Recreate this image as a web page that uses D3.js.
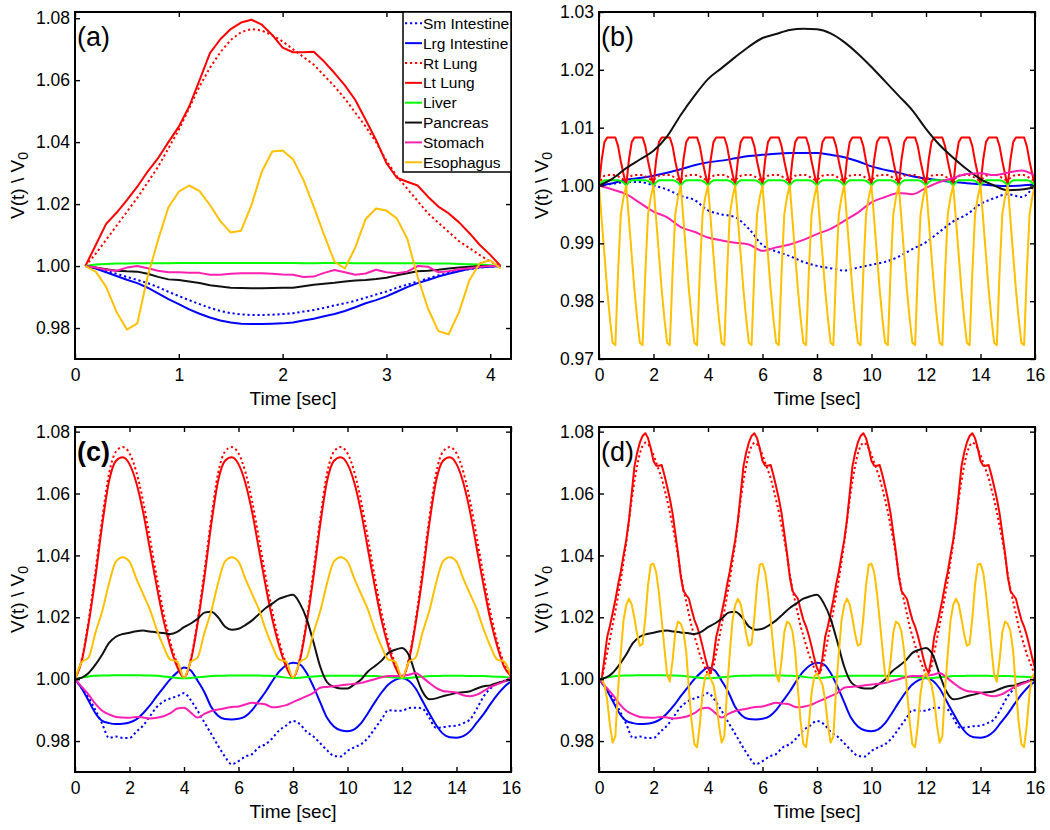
<!DOCTYPE html>
<html>
<head>
<meta charset="utf-8">
<script src="https://cdn.jsdelivr.net/npm/d3@7"></script>
<style>
  body { margin: 0; background: #fff; }
  svg { font-family: "Liberation Sans", Arial, sans-serif; }
</style>
</head>
<body>
<svg id="fig" width="1050" height="830"></svg>
<script>
// legend order = plot order
var organs = ["Sm Intestine", "Lrg Intestine", "Rt Lung", "Lt Lung", "Liver", "Pancreas", "Stomach", "Esophagus"];
var organColors = ["#0000ff", "#0000ff", "#ff0000", "#ff0000", "#00ff00", "#111111", "#ff1fb0", "#ffc000"];
var organDotted = [true, false, true, false, false, false, false, false];

// ---------- panel (a): one cycle, 0.1 .. 4.1 s ----------
var tA = d3.range(41).map(i => 0.1 + i * 0.1);
var smA = [1.000, 0.9995, 0.9985, 0.9975, 0.9965, 0.9955, 0.9945, 0.9932, 0.9917, 0.9903,
  0.989, 0.9877, 0.9865, 0.9855, 0.9848, 0.9844, 0.9842, 0.9842, 0.9843, 0.9845,
  0.9848, 0.9853, 0.9858, 0.9865, 0.9873, 0.988, 0.9888, 0.9898, 0.9908, 0.9918,
  0.993, 0.994, 0.995, 0.996, 0.997, 0.9978, 0.9985, 0.999, 0.9995, 0.9998, 1.000];
var lrgA = [1.000, 0.9992, 0.998, 0.9968, 0.9956, 0.9945, 0.993, 0.9912, 0.9893, 0.9877,
  0.986, 0.9846, 0.9834, 0.9824, 0.9818, 0.9814, 0.9813, 0.9813, 0.9814, 0.9815,
  0.9818, 0.9824, 0.983, 0.9838, 0.9845, 0.9855, 0.9867, 0.988, 0.989, 0.9902,
  0.9917, 0.9932, 0.9945, 0.9955, 0.9966, 0.9975, 0.9983, 0.9991, 0.9996, 0.9998, 1.000];
var rtLungA = [1.000, 1.004, 1.0085, 1.013, 1.0175, 1.022, 1.027, 1.032, 1.038, 1.044,
  1.051, 1.058, 1.064, 1.069, 1.073, 1.0755, 1.0765, 1.076, 1.0745, 1.0725,
  1.070, 1.0675, 1.065, 1.0615, 1.058, 1.054, 1.0495, 1.045, 1.040, 1.034,
  1.029, 1.025, 1.021, 1.017, 1.014, 1.011, 1.008, 1.0058, 1.0035, 1.0015, 1.000];
var ltLungA = [1.000, 1.0068, 1.0136, 1.0172, 1.0213, 1.0256, 1.0305, 1.0348, 1.040, 1.045,
  1.0515, 1.060, 1.0687, 1.0732, 1.0765, 1.0786, 1.0795, 1.0779, 1.0746, 1.0705,
  1.069, 1.069, 1.0692, 1.066, 1.0623, 1.0583, 1.0536, 1.0472, 1.0407, 1.0332,
  1.0285, 1.0272, 1.026, 1.0224, 1.0192, 1.017, 1.0141, 1.0106, 1.0068, 1.0036, 1.000];
var liverA = [1.000, 1.0005, 1.0007, 1.0008, 1.0008, 1.0009, 1.0009, 1.0009, 1.0009, 1.001,
  1.001, 1.001, 1.001, 1.001, 1.001, 1.001, 1.001, 1.001, 1.001, 1.001,
  1.001, 1.0009, 1.0009, 1.001, 1.001, 1.001, 1.0009, 1.0009, 1.0009, 1.0009,
  1.0009, 1.0009, 1.0009, 1.0008, 1.0008, 1.0008, 1.0007, 1.0006, 1.0005, 1.0003, 1.000];
var pancreasA = [1.000, 0.9995, 0.999, 0.9985, 0.9983, 0.9982, 0.9975, 0.9965, 0.9957, 0.9955,
  0.995, 0.9945, 0.9938, 0.9934, 0.993, 0.9929, 0.9928, 0.9928, 0.9929, 0.993,
  0.993, 0.9935, 0.994, 0.9943, 0.9946, 0.995, 0.9953, 0.9955, 0.9958, 0.9962,
  0.997, 0.9977, 0.9983, 0.9985, 0.9988, 0.9992, 0.9995, 0.9998, 1.000, 1.000, 1.000];
var stomachA = [1.000, 0.9995, 0.9988, 0.9985, 0.9995, 1.000, 0.9993, 0.9985, 0.998, 0.998,
  0.9978, 0.9978, 0.9972, 0.9972, 0.9975, 0.9977, 0.9977, 0.9977, 0.9975, 0.9973,
  0.9972, 0.9965, 0.9966, 0.9978, 0.9987, 0.998, 0.9972, 0.9976, 0.9988, 0.998,
  0.9977, 0.9982, 1.000, 0.9998, 0.998, 0.9983, 0.999, 0.9993, 0.9998, 1.000, 1.000];
var esoA = [1.000, 0.9982, 0.9933, 0.9852, 0.9795, 0.9815, 0.9966, 1.0084, 1.019, 1.024,
  1.026, 1.0242, 1.0197, 1.0145, 1.0108, 1.0114, 1.0197, 1.0305, 1.037, 1.0373,
  1.0345, 1.0278, 1.0192, 1.010, 1.0014, 0.9992, 1.006, 1.0152, 1.0186, 1.0179,
  1.0154, 1.0089, 0.9966, 0.9863, 0.979, 0.978, 0.9852, 0.9955, 1.0009, 1.0019, 0.9992];

// ---------- panel (b): 0 .. 16 s ----------
var tB = d3.range(161).map(i => i * 0.1);     // fast signals
var tB2 = d3.range(33).map(i => i * 0.5);     // slow signals
var smB = [1.000, 1.0003, 1.0006, 1.0006, 1.000, 0.9993, 0.9982, 0.9975, 0.9957, 0.995,
  0.9945, 0.9925, 0.9897, 0.9886, 0.9878, 0.9868, 0.9861, 0.9857, 0.9853, 0.9858,
  0.9863, 0.9868, 0.9877, 0.989, 0.9902, 0.992, 0.9938, 0.995, 0.9968, 0.9978,
  0.9985, 0.998, 1.0002];
var lrgB = [1.000, 1.0004, 1.001, 1.0013, 1.0017, 1.0022, 1.0028, 1.0035, 1.004, 1.0043,
  1.0047, 1.0051, 1.0053, 1.0055, 1.0056, 1.0056, 1.0056, 1.0053, 1.0049, 1.0042,
  1.0033, 1.0027, 1.0022, 1.0016, 1.0012, 1.0009, 1.0006, 1.0004, 1.0002, 1.000,
  0.9999, 1.000, 1.0002];
var rtLungB = [
  1.000, 1.0013, 1.0017, 1.0018, 1.0018, 1.0018, 1.0018, 1.0016, 1.0013, 1.001,
  1.001, 1.0013, 1.0017, 1.0018, 1.0018, 1.0018, 1.0018, 1.0016, 1.0013, 1.001,
  1.001, 1.0013, 1.0017, 1.0018, 1.0018, 1.0018, 1.0018, 1.0016, 1.0013, 1.001,
  1.001, 1.0013, 1.0017, 1.0018, 1.0018, 1.0018, 1.0018, 1.0016, 1.0013, 1.001,
  1.001, 1.0013, 1.0017, 1.0018, 1.0018, 1.0018, 1.0018, 1.0016, 1.0013, 1.001,
  1.001, 1.0013, 1.0017, 1.0018, 1.0018, 1.0018, 1.0018, 1.0016, 1.0013, 1.001,
  1.001, 1.0013, 1.0017, 1.0018, 1.0018, 1.0018, 1.0018, 1.0016, 1.0013, 1.001,
  1.001, 1.0013, 1.0017, 1.0018, 1.0018, 1.0018, 1.0018, 1.0016, 1.0013, 1.001,
  1.001, 1.0013, 1.0017, 1.0018, 1.0018, 1.0018, 1.0018, 1.0016, 1.0013, 1.001,
  1.001, 1.0013, 1.0017, 1.0018, 1.0018, 1.0018, 1.0018, 1.0016, 1.0013, 1.001,
  1.001, 1.0013, 1.0017, 1.0018, 1.0018, 1.0018, 1.0018, 1.0016, 1.0013, 1.001,
  1.001, 1.0013, 1.0017, 1.0018, 1.0018, 1.0018, 1.0018, 1.0016, 1.0013, 1.001,
  1.001, 1.0013, 1.0017, 1.0018, 1.0018, 1.0018, 1.0018, 1.0016, 1.0013, 1.001,
  1.001, 1.0013, 1.0017, 1.0018, 1.0018, 1.0018, 1.0018, 1.0016, 1.0013, 1.001,
  1.001, 1.0013, 1.0017, 1.0018, 1.0018, 1.0018, 1.0018, 1.0016, 1.0013, 1.001,
  1.001, 1.0013, 1.0017, 1.0018, 1.0018, 1.0018, 1.0018, 1.0016, 1.0013, 1.001,
  1.001];
var ltLungB = [
  1.000, 1.0045, 1.0075, 1.0083, 1.0083, 1.0083, 1.0083, 1.0068, 1.0042, 1.002,
  1.000, 1.0045, 1.0075, 1.0083, 1.0083, 1.0083, 1.0083, 1.0068, 1.0042, 1.002,
  1.000, 1.0045, 1.0075, 1.0083, 1.0083, 1.0083, 1.0083, 1.0068, 1.0042, 1.002,
  1.000, 1.0045, 1.0075, 1.0083, 1.0083, 1.0083, 1.0083, 1.0068, 1.0042, 1.002,
  1.000, 1.0045, 1.0075, 1.0083, 1.0083, 1.0083, 1.0083, 1.0068, 1.0042, 1.002,
  1.000, 1.0045, 1.0075, 1.0083, 1.0083, 1.0083, 1.0083, 1.0068, 1.0042, 1.002,
  1.000, 1.0045, 1.0075, 1.0083, 1.0083, 1.0083, 1.0083, 1.0068, 1.0042, 1.002,
  1.000, 1.0045, 1.0075, 1.0083, 1.0083, 1.0083, 1.0083, 1.0068, 1.0042, 1.002,
  1.000, 1.0045, 1.0075, 1.0083, 1.0083, 1.0083, 1.0083, 1.0068, 1.0042, 1.002,
  1.000, 1.0045, 1.0075, 1.0083, 1.0083, 1.0083, 1.0083, 1.0068, 1.0042, 1.002,
  1.000, 1.0045, 1.0075, 1.0083, 1.0083, 1.0083, 1.0083, 1.0068, 1.0042, 1.002,
  1.000, 1.0045, 1.0075, 1.0083, 1.0083, 1.0083, 1.0083, 1.0068, 1.0042, 1.002,
  1.000, 1.0045, 1.0075, 1.0083, 1.0083, 1.0083, 1.0083, 1.0068, 1.0042, 1.002,
  1.000, 1.0045, 1.0075, 1.0083, 1.0083, 1.0083, 1.0083, 1.0068, 1.0042, 1.002,
  1.000, 1.0045, 1.0075, 1.0083, 1.0083, 1.0083, 1.0083, 1.0068, 1.0042, 1.002,
  1.000, 1.0045, 1.0075, 1.0083, 1.0083, 1.0083, 1.0083, 1.0068, 1.0042, 1.002,
  1.000];
var liverB = [
  1.000, 1.0006, 1.0009, 1.0009, 1.0009, 1.0009, 1.0009, 1.0009, 1.0008, 1.0005,
  1.000, 1.0006, 1.0009, 1.0009, 1.0009, 1.0009, 1.0009, 1.0009, 1.0008, 1.0005,
  1.000, 1.0006, 1.0009, 1.0009, 1.0009, 1.0009, 1.0009, 1.0009, 1.0008, 1.0005,
  1.000, 1.0006, 1.0009, 1.0009, 1.0009, 1.0009, 1.0009, 1.0009, 1.0008, 1.0005,
  1.000, 1.0006, 1.0009, 1.0009, 1.0009, 1.0009, 1.0009, 1.0009, 1.0008, 1.0005,
  1.000, 1.0006, 1.0009, 1.0009, 1.0009, 1.0009, 1.0009, 1.0009, 1.0008, 1.0005,
  1.000, 1.0006, 1.0009, 1.0009, 1.0009, 1.0009, 1.0009, 1.0009, 1.0008, 1.0005,
  1.000, 1.0006, 1.0009, 1.0009, 1.0009, 1.0009, 1.0009, 1.0009, 1.0008, 1.0005,
  1.000, 1.0006, 1.0009, 1.0009, 1.0009, 1.0009, 1.0009, 1.0009, 1.0008, 1.0005,
  1.000, 1.0006, 1.0009, 1.0009, 1.0009, 1.0009, 1.0009, 1.0009, 1.0008, 1.0005,
  1.000, 1.0006, 1.0009, 1.0009, 1.0009, 1.0009, 1.0009, 1.0009, 1.0008, 1.0005,
  1.000, 1.0006, 1.0009, 1.0009, 1.0009, 1.0009, 1.0009, 1.0009, 1.0008, 1.0005,
  1.000, 1.0006, 1.0009, 1.0009, 1.0009, 1.0009, 1.0009, 1.0009, 1.0008, 1.0005,
  1.000, 1.0006, 1.0009, 1.0009, 1.0009, 1.0009, 1.0009, 1.0009, 1.0008, 1.0005,
  1.000, 1.0006, 1.0009, 1.0009, 1.0009, 1.0009, 1.0009, 1.0009, 1.0008, 1.0005,
  1.000, 1.0006, 1.0009, 1.0009, 1.0009, 1.0009, 1.0009, 1.0009, 1.0008, 1.0005,
  1.000];
var pancreasB = [1.000, 1.0012, 1.003, 1.0045, 1.006, 1.0085, 1.0122, 1.0155, 1.0184, 1.0203,
  1.0222, 1.024, 1.0255, 1.0262, 1.0269, 1.0271, 1.027, 1.0263, 1.0248, 1.0228,
  1.0205, 1.018, 1.0155, 1.013, 1.0098, 1.007, 1.0048, 1.0028, 1.0011, 1.000,
  0.9992, 0.9993, 0.9997];
var stomachB = [1.000, 0.9993, 0.9985, 0.997, 0.9955, 0.9945, 0.9928, 0.992, 0.991, 0.9905,
  0.9901, 0.9898, 0.9887, 0.9893, 0.9898, 0.9906, 0.9916, 0.9925, 0.9939, 0.9953,
  0.9971, 0.998, 0.9987, 0.9985, 0.9996, 1.0006, 1.0013, 1.002, 1.0021, 1.0018,
  1.0022, 1.0026, 1.0017];
var esoB = [
  1.000, 0.994, 0.988, 0.982, 0.977, 0.9728, 0.9724, 0.985, 0.995, 0.998,
  1.000, 0.994, 0.988, 0.982, 0.977, 0.9728, 0.9724, 0.985, 0.995, 0.998,
  1.000, 0.994, 0.988, 0.982, 0.977, 0.9728, 0.9724, 0.985, 0.995, 0.998,
  1.000, 0.994, 0.988, 0.982, 0.977, 0.9728, 0.9724, 0.985, 0.995, 0.998,
  1.000, 0.994, 0.988, 0.982, 0.977, 0.9728, 0.9724, 0.985, 0.995, 0.998,
  1.000, 0.994, 0.988, 0.982, 0.977, 0.9728, 0.9724, 0.985, 0.995, 0.998,
  1.000, 0.994, 0.988, 0.982, 0.977, 0.9728, 0.9724, 0.985, 0.995, 0.998,
  1.000, 0.994, 0.988, 0.982, 0.977, 0.9728, 0.9724, 0.985, 0.995, 0.998,
  1.000, 0.994, 0.988, 0.982, 0.977, 0.9728, 0.9724, 0.985, 0.995, 0.998,
  1.000, 0.994, 0.988, 0.982, 0.977, 0.9728, 0.9724, 0.985, 0.995, 0.998,
  1.000, 0.994, 0.988, 0.982, 0.977, 0.9728, 0.9724, 0.985, 0.995, 0.998,
  1.000, 0.994, 0.988, 0.982, 0.977, 0.9728, 0.9724, 0.985, 0.995, 0.998,
  1.000, 0.994, 0.988, 0.982, 0.977, 0.9728, 0.9724, 0.985, 0.995, 0.998,
  1.000, 0.994, 0.988, 0.982, 0.977, 0.9728, 0.9724, 0.985, 0.995, 0.998,
  1.000, 0.994, 0.988, 0.982, 0.977, 0.9728, 0.9724, 0.985, 0.995, 0.998,
  1.000, 0.994, 0.988, 0.982, 0.977, 0.9728, 0.9724, 0.985, 0.995, 0.998,
  1.000];

// ---------- panel (c): 0 .. 16 s, 0.25 s samples ----------
var tC = d3.range(65).map(i => i * 0.25);
var smC = [1.000, 0.997, 0.994, 0.990,  0.9855, 0.981, 0.9815, 0.981,  0.981, 0.983, 0.985, 0.988,
  0.991, 0.9928, 0.9938, 0.9945,  0.9955, 0.9932, 0.9898, 0.986,  0.9823, 0.9785, 0.975, 0.9725,
  0.9735, 0.975, 0.9758, 0.978,  0.979, 0.981, 0.9835, 0.985,  0.9865, 0.9855, 0.983, 0.9815,
  0.9793, 0.977, 0.9752, 0.975,  0.9768, 0.978, 0.979, 0.981,  0.984, 0.987, 0.990, 0.9898,
  0.9898, 0.9907, 0.9908, 0.9905,  0.9875, 0.9843, 0.9845, 0.9848,  0.985, 0.9858, 0.987, 0.9905,
  0.9945, 0.997, 0.9985, 0.9995,  1.000];
var lrgC = [1.000, 0.997, 0.993, 0.989,  0.9865, 0.9858, 0.9855, 0.9856,  0.986, 0.987, 0.989, 0.9915,
  0.9945, 0.9973, 1.000, 1.0022,  1.0038, 1.0028, 0.9995, 0.9958,  0.991, 0.9882, 0.9871, 0.987,
  0.9872, 0.988, 0.990, 0.993,  0.996, 0.9995, 1.0025, 1.0045,  1.0053, 1.0048, 1.002, 0.9976,
  0.9925, 0.9875, 0.9847, 0.9835,  0.9832, 0.9838, 0.9858, 0.989,  0.9925, 0.9957, 0.9983, 0.9998,
  1.0004, 0.9995, 0.997, 0.993,  0.989, 0.9852, 0.9824, 0.9812,  0.9811, 0.9816, 0.9832, 0.986,
  0.9888, 0.992, 0.995, 0.9975,  0.9992];
var rtLungC = [1.000, 1.0065, 1.019, 1.035, 1.052, 1.0665, 1.0735, 1.075, 1.073, 1.067, 1.0575, 1.0455, 1.033, 1.0215, 1.012, 1.005,
  1.0005, 1.0065, 1.019, 1.035, 1.052, 1.0665, 1.0735, 1.075, 1.073, 1.067, 1.0575, 1.0455, 1.033, 1.0215, 1.012, 1.005,
  1.0005, 1.0065, 1.019, 1.035, 1.052, 1.0665, 1.0735, 1.075, 1.073, 1.067, 1.0575, 1.0455, 1.033, 1.0215, 1.012, 1.005,
  1.0005, 1.0065, 1.019, 1.035, 1.052, 1.0665, 1.0735, 1.075, 1.073, 1.067, 1.0575, 1.0455, 1.033, 1.0215, 1.012, 1.005,
  1.001];
var ltLungC = [1.000, 1.006, 1.018, 1.033, 1.050, 1.064, 1.0705, 1.0717, 1.0695, 1.0635, 1.054, 1.042, 1.030, 1.019, 1.0105, 1.004,
  1.0005, 1.006, 1.018, 1.033, 1.050, 1.064, 1.0705, 1.0717, 1.0695, 1.0635, 1.054, 1.042, 1.030, 1.019, 1.0105, 1.004,
  1.0005, 1.006, 1.018, 1.033, 1.050, 1.064, 1.0705, 1.0717, 1.0695, 1.0635, 1.054, 1.042, 1.030, 1.019, 1.0105, 1.004,
  1.0005, 1.006, 1.018, 1.033, 1.050, 1.064, 1.0705, 1.0717, 1.0695, 1.0635, 1.054, 1.042, 1.030, 1.019, 1.0105, 1.004,
  1.001];
var liverC = [1.000, 1.0005, 1.0009, 1.0011,  1.0012, 1.0012, 1.0013, 1.0013,  1.0013, 1.0013, 1.0012, 1.0012,
  1.0011, 1.0009, 1.0006, 1.0004,  1.0003, 1.0004, 1.0006, 1.0008,  1.001, 1.0011, 1.0011, 1.0012,
  1.0012, 1.0012, 1.0012, 1.0012,  1.0011, 1.001, 1.0008, 1.0005,  1.0004, 1.0005, 1.0007, 1.0009,
  1.001, 1.0011, 1.0011, 1.0011,  1.0011, 1.0011, 1.0011, 1.001,  1.001, 1.0009, 1.0007, 1.0005,
  1.0003, 1.0004, 1.0006, 1.0008,  1.001, 1.001, 1.0011, 1.0011,  1.0011, 1.0011, 1.001, 1.001,
  1.001, 1.0009, 1.0008, 1.0007,  1.0005];
var pancreasC = [1.000, 1.0005, 1.002, 1.0047,  1.008, 1.0117, 1.0137, 1.0146,  1.015, 1.0155, 1.0157, 1.0154,
  1.0151, 1.0149, 1.0146, 1.0153,  1.0168, 1.018, 1.0195, 1.0215,  1.0218, 1.020, 1.017, 1.016,
  1.0163, 1.0175, 1.019, 1.021,  1.023, 1.0245, 1.026, 1.0268,  1.0273, 1.0245, 1.0195, 1.012,
  1.004, 0.999, 0.9975, 0.997,  0.997, 0.9983, 0.9999, 1.0025,  1.0042, 1.006, 1.0085, 1.0095,
  1.0101, 1.0078, 1.0015, 0.996,  0.9935, 0.9938, 0.9945, 0.995,  0.9956, 0.9958, 0.9961, 0.997,
  0.9977, 0.998, 0.9988, 0.9993,  0.9999];
var stomachC = [1.000, 0.9975, 0.995, 0.992,  0.9898, 0.9886, 0.9878, 0.9876,  0.9875, 0.9878, 0.9876, 0.9873,
  0.9875, 0.988, 0.989, 0.9905,  0.9908, 0.9892, 0.9876, 0.9888,  0.9897, 0.9902, 0.9906, 0.991,
  0.9912, 0.9918, 0.9924, 0.9921,  0.9918, 0.9909, 0.9911, 0.9916,  0.9926, 0.9935, 0.9945, 0.9956,
  0.9972, 0.9975, 0.9977, 0.998,  0.9983, 0.9985, 0.9988, 0.9994,  1.000, 1.0006, 1.001, 1.001,
  1.0011, 1.0014, 1.002, 1.0006,  0.9988, 0.9972, 0.9962, 0.9959,  0.9956, 0.9948, 0.9945, 0.995,
  0.9962, 0.9975, 0.9984, 0.9992,  1.0008];
var esoC = [1.000, 1.0055, 1.007, 1.015, 1.022, 1.031, 1.038, 1.0394, 1.038, 1.0325, 1.0275, 1.0225, 1.016, 1.0105, 1.0063, 1.0057,
  1.0005, 1.0055, 1.007, 1.015, 1.022, 1.031, 1.038, 1.0394, 1.038, 1.0325, 1.0275, 1.0225, 1.016, 1.0105, 1.0063, 1.0057,
  1.0005, 1.0055, 1.007, 1.015, 1.022, 1.031, 1.038, 1.0394, 1.038, 1.0325, 1.0275, 1.0225, 1.016, 1.0105, 1.0063, 1.0057,
  1.0005, 1.0055, 1.007, 1.015, 1.022, 1.031, 1.038, 1.0394, 1.038, 1.0325, 1.0275, 1.0225, 1.016, 1.0105, 1.0063, 1.0057,
  1.001];

// ---------- panel (d): 0.1 .. 16.1 s, 0.1 s samples (lungs, esophagus) ----------
var tD = d3.range(161).map(i => 0.1 + i * 0.1);
var rtLungD = [
  1.000, 1.004, 1.0085, 1.013, 1.0175, 1.022, 1.027, 1.032, 1.038, 1.044,
  1.051, 1.058, 1.064, 1.069, 1.073, 1.0755, 1.0765, 1.076, 1.0745, 1.0725,
  1.070, 1.0675, 1.065, 1.0615, 1.058, 1.054, 1.0495, 1.045, 1.040, 1.034,
  1.029, 1.025, 1.021, 1.017, 1.014, 1.011, 1.008, 1.0058, 1.0035, 1.0015,
  1.002, 1.004, 1.0085, 1.013, 1.0175, 1.022, 1.027, 1.032, 1.038, 1.044,
  1.051, 1.058, 1.064, 1.069, 1.073, 1.0755, 1.0765, 1.076, 1.0745, 1.0725,
  1.070, 1.0675, 1.065, 1.0615, 1.058, 1.054, 1.0495, 1.045, 1.040, 1.034,
  1.029, 1.025, 1.021, 1.017, 1.014, 1.011, 1.008, 1.0058, 1.0035, 1.0015,
  1.002, 1.004, 1.0085, 1.013, 1.0175, 1.022, 1.027, 1.032, 1.038, 1.044,
  1.051, 1.058, 1.064, 1.069, 1.073, 1.0755, 1.0765, 1.076, 1.0745, 1.0725,
  1.070, 1.0675, 1.065, 1.0615, 1.058, 1.054, 1.0495, 1.045, 1.040, 1.034,
  1.029, 1.025, 1.021, 1.017, 1.014, 1.011, 1.008, 1.0058, 1.0035, 1.0015,
  1.002, 1.004, 1.0085, 1.013, 1.0175, 1.022, 1.027, 1.032, 1.038, 1.044,
  1.051, 1.058, 1.064, 1.069, 1.073, 1.0755, 1.0765, 1.076, 1.0745, 1.0725,
  1.070, 1.0675, 1.065, 1.0615, 1.058, 1.054, 1.0495, 1.045, 1.040, 1.034,
  1.029, 1.025, 1.021, 1.017, 1.014, 1.011, 1.008, 1.0058, 1.0035, 1.0015,
  1.002];
var ltLungD = [
  1.000, 1.0068, 1.0136, 1.0172, 1.0213, 1.0256, 1.0305, 1.0348, 1.040, 1.045,
  1.0515, 1.060, 1.0687, 1.0732, 1.0765, 1.0786, 1.0795, 1.0779, 1.0746, 1.0705,
  1.069, 1.069, 1.0692, 1.066, 1.0623, 1.0583, 1.0536, 1.0472, 1.0407, 1.0332,
  1.0285, 1.0272, 1.026, 1.0224, 1.0192, 1.017, 1.0141, 1.0106, 1.0068, 1.0036,
  1.002, 1.0068, 1.0136, 1.0172, 1.0213, 1.0256, 1.0305, 1.0348, 1.040, 1.045,
  1.0515, 1.060, 1.0687, 1.0732, 1.0765, 1.0786, 1.0795, 1.0779, 1.0746, 1.0705,
  1.069, 1.069, 1.0692, 1.066, 1.0623, 1.0583, 1.0536, 1.0472, 1.0407, 1.0332,
  1.0285, 1.0272, 1.026, 1.0224, 1.0192, 1.017, 1.0141, 1.0106, 1.0068, 1.0036,
  1.002, 1.0068, 1.0136, 1.0172, 1.0213, 1.0256, 1.0305, 1.0348, 1.040, 1.045,
  1.0515, 1.060, 1.0687, 1.0732, 1.0765, 1.0786, 1.0795, 1.0779, 1.0746, 1.0705,
  1.069, 1.069, 1.0692, 1.066, 1.0623, 1.0583, 1.0536, 1.0472, 1.0407, 1.0332,
  1.0285, 1.0272, 1.026, 1.0224, 1.0192, 1.017, 1.0141, 1.0106, 1.0068, 1.0036,
  1.002, 1.0068, 1.0136, 1.0172, 1.0213, 1.0256, 1.0305, 1.0348, 1.040, 1.045,
  1.0515, 1.060, 1.0687, 1.0732, 1.0765, 1.0786, 1.0795, 1.0779, 1.0746, 1.0705,
  1.069, 1.069, 1.0692, 1.066, 1.0623, 1.0583, 1.0536, 1.0472, 1.0407, 1.0332,
  1.0285, 1.0272, 1.026, 1.0224, 1.0192, 1.017, 1.0141, 1.0106, 1.0068, 1.0036,
  1.002];
var esoD = [
  1.000, 0.9982, 0.9933, 0.9852, 0.9795, 0.9815, 0.9966, 1.0084, 1.019, 1.024,
  1.026, 1.0242, 1.0197, 1.0145, 1.0108, 1.0114, 1.0197, 1.0305, 1.037, 1.0373,
  1.0345, 1.0278, 1.0192, 1.010, 1.0014, 0.9992, 1.006, 1.0152, 1.0186, 1.0179,
  1.0154, 1.0089, 0.9966, 0.9863, 0.979, 0.978, 0.9852, 0.9955, 1.0009, 1.0019,
  1.000, 0.9982, 0.9933, 0.9852, 0.9795, 0.9815, 0.9966, 1.0084, 1.019, 1.024,
  1.026, 1.0242, 1.0197, 1.0145, 1.0108, 1.0114, 1.0197, 1.0305, 1.037, 1.0373,
  1.0345, 1.0278, 1.0192, 1.010, 1.0014, 0.9992, 1.006, 1.0152, 1.0186, 1.0179,
  1.0154, 1.0089, 0.9966, 0.9863, 0.979, 0.978, 0.9852, 0.9955, 1.0009, 1.0019,
  1.000, 0.9982, 0.9933, 0.9852, 0.9795, 0.9815, 0.9966, 1.0084, 1.019, 1.024,
  1.026, 1.0242, 1.0197, 1.0145, 1.0108, 1.0114, 1.0197, 1.0305, 1.037, 1.0373,
  1.0345, 1.0278, 1.0192, 1.010, 1.0014, 0.9992, 1.006, 1.0152, 1.0186, 1.0179,
  1.0154, 1.0089, 0.9966, 0.9863, 0.979, 0.978, 0.9852, 0.9955, 1.0009, 1.0019,
  1.000, 0.9982, 0.9933, 0.9852, 0.9795, 0.9815, 0.9966, 1.0084, 1.019, 1.024,
  1.026, 1.0242, 1.0197, 1.0145, 1.0108, 1.0114, 1.0197, 1.0305, 1.037, 1.0373,
  1.0345, 1.0278, 1.0192, 1.010, 1.0014, 0.9992, 1.006, 1.0152, 1.0186, 1.0179,
  1.0154, 1.0089, 0.9966, 0.9863, 0.979, 0.978, 0.9852, 0.9955, 1.0009, 1.0019,
  0.9992];

// tick labels
var xTicksA = [0, 1, 2, 3, 4];
var xTicks16 = [0, 2, 4, 6, 8, 10, 12, 14, 16];
var yTicksA = [0.98, 1.00, 1.02, 1.04, 1.06, 1.08];
var yTicksB = [0.97, 0.98, 0.99, 1.00, 1.01, 1.02, 1.03];

var lin = d3.curveLinear, smooth = d3.curveMonotoneX;

// series per panel, in legend order: [times, values, curve]
var panels = [
  { label: "(a)", left: 75, right: 511, top: 12, bottom: 359, xDom: [0, 4.2], yDom: [0.97, 1.082],
    xTicks: xTicksA, yTicks: yTicksA, legend: true, bold: false,
    series: [[tA, smA, lin], [tA, lrgA, lin], [tA, rtLungA, lin], [tA, ltLungA, lin],
             [tA, liverA, lin], [tA, pancreasA, lin], [tA, stomachA, lin], [tA, esoA, lin]] },
  { label: "(b)", left: 599, right: 1035, top: 12, bottom: 359, xDom: [0, 16], yDom: [0.97, 1.03],
    xTicks: xTicks16, yTicks: yTicksB, legend: false, bold: false,
    series: [[tB2, smB, smooth], [tB2, lrgB, smooth], [tB, rtLungB, lin], [tB, ltLungB, lin],
             [tB, liverB, lin], [tB2, pancreasB, smooth], [tB2, stomachB, smooth], [tB, esoB, lin]] },
  { label: "(c)", left: 75, right: 511, top: 427, bottom: 772, xDom: [0, 16], yDom: [0.97, 1.0815],
    xTicks: xTicks16, yTicks: yTicksA, legend: false, bold: true,
    series: [[tC, smC, smooth], [tC, lrgC, smooth], [tC, rtLungC, smooth], [tC, ltLungC, smooth],
             [tC, liverC, smooth], [tC, pancreasC, smooth], [tC, stomachC, smooth], [tC, esoC, smooth]] },
  { label: "(d)", left: 599, right: 1035, top: 427, bottom: 772, xDom: [0, 16], yDom: [0.97, 1.0815],
    xTicks: xTicks16, yTicks: yTicksA, legend: false, bold: false,
    series: [[tC, smC, smooth], [tC, lrgC, smooth], [tD, rtLungD, lin], [tD, ltLungD, lin],
             [tC, liverC, smooth], [tC, pancreasC, smooth], [tC, stomachC, smooth], [tD, esoD, lin]] }
];

var svg = d3.select("#fig");

function styleAxis(g, fontSize) {
  g.select(".domain").remove();
  g.selectAll(".tick line").attr("stroke", "#000").attr("stroke-width", 1.4);
  g.selectAll(".tick text").attr("fill", "#000").style("font-size", fontSize)
    .style("font-family", "'Liberation Sans', Arial, sans-serif");
}

panels.forEach(function (p, pi) {
  var x = d3.scaleLinear().domain(p.xDom).range([p.left, p.right]);
  var y = d3.scaleLinear().domain(p.yDom).range([p.bottom, p.top]);
  var g = svg.append("g");

  g.append("clipPath").attr("id", "clip" + pi)
    .append("rect").attr("x", p.left).attr("y", p.top)
    .attr("width", p.right - p.left).attr("height", p.bottom - p.top);

  var lines = g.append("g").attr("clip-path", "url(#clip" + pi + ")");
  p.series.forEach(function (s, k) {
    var t = s[0];
    var line = d3.line().x((d, j) => x(t[j])).y(d => y(d)).curve(s[2]);
    lines.append("path")
      .attr("d", line(s[1]))
      .attr("fill", "none")
      .attr("stroke", organColors[k])
      .attr("stroke-width", 2)
      .attr("stroke-linejoin", "round")
      .attr("stroke-dasharray", organDotted[k] ? "2.2,2.8" : null);
  });

  // ticks on all four sides, pointing inward
  g.append("g").attr("transform", "translate(0," + p.bottom + ")")
    .call(d3.axisBottom(x).tickValues(p.xTicks).tickFormat(d3.format("d")).tickSize(-5).tickPadding(10))
    .call(styleAxis, "17.5px");
  g.append("g").attr("transform", "translate(0," + p.top + ")")
    .call(d3.axisTop(x).tickValues(p.xTicks).tickFormat("").tickSize(-5))
    .call(styleAxis, "17.5px");
  g.append("g").attr("transform", "translate(" + p.left + ",0)")
    .call(d3.axisLeft(y).tickValues(p.yTicks).tickFormat(d3.format(".2f")).tickSize(-5).tickPadding(5))
    .call(styleAxis, "17.5px");
  g.append("g").attr("transform", "translate(" + p.right + ",0)")
    .call(d3.axisRight(y).tickValues(p.yTicks).tickFormat("").tickSize(-5))
    .call(styleAxis, "17.5px");

  g.append("rect")
    .attr("x", p.left).attr("y", p.top)
    .attr("width", p.right - p.left).attr("height", p.bottom - p.top)
    .attr("fill", "none").attr("stroke", "#000").attr("stroke-width", 2);

  // axis titles
  g.append("text")
    .attr("x", (p.left + p.right) / 2).attr("y", p.bottom + 46)
    .attr("text-anchor", "middle").style("font-size", "19px")
    .text("Time [sec]");

  var yl = g.append("text")
    .attr("transform", "translate(" + (p.left - 51) + "," + ((p.top + p.bottom) / 2) + ") rotate(-90)")
    .attr("text-anchor", "middle").style("font-size", "19px");
  yl.append("tspan").text("V(t) \\ V");
  yl.append("tspan").attr("dy", "0.3em").style("font-size", "14px").text("0");

  // panel letter
  g.append("text")
    .attr("x", p.left + 2).attr("y", p.top + 34)
    .style("font-size", "27px").style("font-weight", p.bold ? "bold" : "normal")
    .text(p.label);

  if (p.legend) {
    var lx = 403, ly = p.top, lw = p.right - 403, lh = 160, step = 19.85;
    var lg = g.append("g");
    lg.append("rect").attr("x", lx).attr("y", ly).attr("width", lw).attr("height", lh)
      .attr("fill", "#fff").attr("stroke", "#000").attr("stroke-width", 1.5);
    organs.forEach(function (name, k) {
      var cy = ly + 11.3 + k * step;
      lg.append("line").attr("x1", lx + 2).attr("x2", lx + 19).attr("y1", cy).attr("y2", cy)
        .attr("stroke", organColors[k]).attr("stroke-width", 2)
        .attr("stroke-dasharray", organDotted[k] ? "2.2,2.8" : null);
      lg.append("text").attr("x", lx + 20).attr("y", cy).attr("dy", "0.36em")
        .style("font-size", "15.5px").text(name);
    });
  }
});
</script>
</body>
</html>
